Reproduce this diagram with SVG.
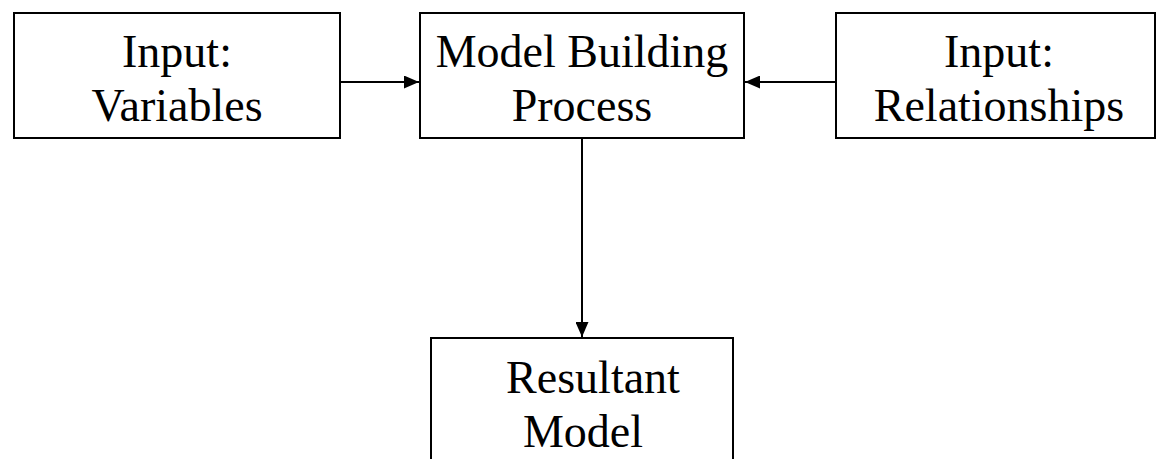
<svg xmlns="http://www.w3.org/2000/svg" width="1156" height="459" viewBox="0 0 1156 459">
<defs>
<style>
.box{fill:#fff;stroke:#000;stroke-width:2}
.lbl{font-family:"Liberation Serif","Times New Roman",serif;font-size:46px;fill:#000;text-anchor:middle}
.conn{stroke:#000;stroke-width:2;fill:none}
</style>
<marker id="arr" viewBox="0 0 15 13" refX="15" refY="6.5" markerWidth="15" markerHeight="13" markerUnits="userSpaceOnUse" orient="auto">
<path d="M0,0 L15,6.5 L0,13 z" fill="#000"/>
</marker>
</defs>
<rect width="1156" height="459" fill="#fff"/>
<g id="connectors">
<line class="conn" x1="340" y1="82" x2="419" y2="82" marker-end="url(#arr)"/>
<line class="conn" x1="836" y1="82" x2="745" y2="82" marker-end="url(#arr)"/>
<line class="conn" x1="582" y1="138" x2="582" y2="337" marker-end="url(#arr)"/>
</g>
<g id="input-variables">
<rect class="box" x="14" y="13" width="326" height="125"/>
<text class="lbl" x="177" y="67">Input:</text>
<text class="lbl" x="177" y="121">Variables</text>
</g>
<g id="model-building">
<rect class="box" x="420" y="13" width="324" height="125"/>
<text class="lbl" x="582" y="67">Model Building</text>
<text class="lbl" x="582" y="121">Process</text>
</g>
<g id="input-relationships">
<rect class="box" x="836" y="13" width="319" height="125"/>
<text class="lbl" x="999" y="67">Input:</text>
<text class="lbl" x="999" y="121">Relationships</text>
</g>
<g id="resultant-model">
<rect class="box" x="431" y="338" width="302" height="130"/>
<text class="lbl" x="593" y="393">Resultant</text>
<text class="lbl" x="583" y="447">Model</text>
</g>
</svg>
